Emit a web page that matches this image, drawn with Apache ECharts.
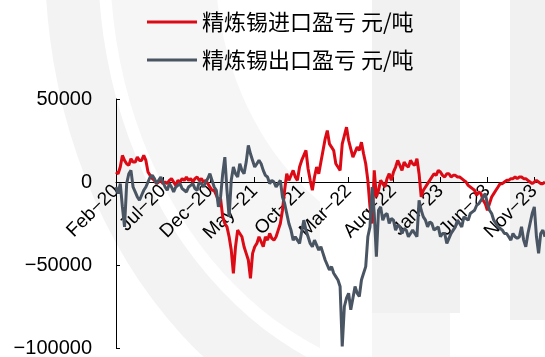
<!DOCTYPE html>
<html>
<head>
<meta charset="utf-8">
<script src="https://cdn.jsdelivr.net/npm/echarts@6/dist/echarts.min.js"></script>
<style>
  html, body { margin: 0; padding: 0; background: #ffffff; }
  #chart { width: 545px; height: 357px; }
</style>
</head>
<body>
<div id="chart"></div>
<script>
// Weekly refined-tin trade profit/loss (yuan per tonne), weeks starting 2020-02-03
const startDate = '2020-02-03';
const seriesNames = ['精炼锡进口盈亏 元/吨', '精炼锡出口盈亏 元/吨'];
const yTicks = [-100000, -50000, 0, 50000];

const importProfit = [
  6000, 5000, 9000, 16000, 13000, 11000, 10000, 14000, 12000, 12000,
  15000, 13000, 13000, 16000, 13000, 6000, 4000, 2000, 1000, -1000,
  0, 1000, -1000, 0, -1000, 1000, 2000, 0, -2000, 1000,
  0, 2000, 1000, 3000, 1000, 2000, 0, 2000, 3000, 1000,
  2000, 0, 1000, -1000, -3000, -5000, -5000, -8000, -11000, -10000,
  -21000, -25000, -27000, -33000, -41000, -55000, -39000, -29000, -31000, -33000,
  -39000, -43000, -47000, -58000, -43000, -39000, -37000, -33000, -36000, -39000,
  -33000, -35000, -31000, -34000, -35000, -33000, -29000, -25000, -17000, -5000,
  5000, 1000, 4000, 7000, 3000, 1000, 9000, 13000, 16000, 19000,
  8000, 1000, -5000, 3000, 9000, 5000, 12000, 19000, 26000, 31000,
  23000, 21000, 19000, 11000, 9000, 7000, 23000, 28000, 33000, 25000,
  20000, 15000, 18000, 21000, 19000, 24000, 17000, 11000, 1000, -15000,
  -25000, 7000, -9000, -5000, 1000, -1000, -3000, 2000, 5000, 1000,
  6000, 9000, 13000, 10000, 7000, 12000, 10000, 9000, 13000, 11000,
  10000, 14000, 5000, -9000, -5000, -3000, -1000, 1000, 3000, 5000,
  4000, 7000, 6000, 4000, 3000, 5000, 5000, 3000, 4000, 4000,
  3000, 3000, 2000, 1000, 0, -2000, -3000, -4000, -5000, -8000,
  -6000, -7000, -11000, -13000, -17000, -13000, -9000, -7000, -5000, -3000,
  -1000, -1000, 0, 1000, 1000, 2000, 2000, 3000, 2000, 3000,
  3000, 2000, 2000, 1000, 0, -1000, 0, 1000, 0, -1000,
  -1000, 0
];

const exportProfit = [
  -3000, -7000, -1000, -15000, -27000, -1000, 5000, 7000, -3000, -6000,
  -9000, -11000, -8000, -5000, -3000, 0, 3000, 4000, 2000, -1000,
  1000, 3000, 0, -3000, -5000, -1000, -3000, -6000, -3000, -2000,
  -1000, -4000, -5000, -6000, -3000, -2000, -1000, -4000, -5000, 0,
  -1000, -3000, 0, 2000, 5000, 1000, -3000, -5000, -15000, -9000,
  5000, 15000, -5000, -21000, 1000, 9000, 5000, 3000, 11000, 7000,
  5000, 12000, 22000, 17000, 13000, 9000, 11000, 13000, 11000, 7000,
  4000, 3000, -1000, 1000, 0, -3000, -1000, 1000, -9000, -13000,
  -19000, -25000, -29000, -35000, -33000, -35000, -37000, -30000, -23000, -29000,
  -33000, -37000, -39000, -35000, -38000, -41000, -39000, -43000, -47000, -50000,
  -53000, -51000, -55000, -57000, -59000, -63000, -99000, -75000, -70000, -67000,
  -77000, -70000, -63000, -67000, -69000, -59000, -55000, -51000, -33000, -27000,
  -3000, -19000, -45000, -17000, -15000, -23000, -20000, -19000, -25000, -22000,
  -23000, -29000, -26000, -27000, -31000, -28000, -29000, -33000, -31000, -29000,
  -31000, -33000, -11000, -17000, -21000, -23000, -27000, -24000, -25000, -29000,
  -28000, -27000, -33000, -31000, -31000, -37000, -34000, -31000, -29000, -27000,
  -23000, -25000, -27000, -21000, -22000, -23000, -19000, -18000, -17000, -14000,
  -13000, -11000, -9000, -7000, -13000, -17000, -19000, -23000, -25000, -27000,
  -28000, -29000, -31000, -31000, -33000, -35000, -31000, -33000, -34000, -33000,
  -27000, -35000, -39000, -31000, -25000, -19000, -15000, -33000, -43000, -31000,
  -29000, -33000
];

// Weekly date categories
const monthNames = ['Jan','Feb','Mar','Apr','May','Jun','Jul','Aug','Sep','Oct','Nov','Dec'];
const weekDates = [];
{
  const d0 = new Date(startDate + 'T00:00:00Z');
  for (let i = 0; i < importProfit.length; i++) {
    const d = new Date(d0.getTime() + i * 7 * 86400000);
    weekDates.push(d.toISOString().slice(0, 10));
  }
}
const base = new Date(startDate + 'T00:00:00Z');
const baseMonth = base.getUTCFullYear() * 12 + base.getUTCMonth();
function monthKey(s) { const p = s.split('-'); return (+p[0]) * 12 + (+p[1] - 1); }
// Label the first week of every fifth month
function showLabel(index) {
  const m = monthKey(weekDates[index]);
  if ((m - baseMonth) % 5 !== 0) return false;
  return index === 0 || monthKey(weekDates[index - 1]) !== m;
}
function fmtMonth(s) {
  const p = s.split('-');
  return monthNames[+p[1] - 1] + '\u2212' + p[0].slice(2);
}
const fontStack = "'Liberation Sans', Arial, 'Noto Sans CJK SC', sans-serif";

// plot area
const gridTop = 99, gridBottom = 9, chartH = 357;
const plotH = chartH - gridTop - gridBottom;
const yMin = yTicks[0], yMax = yTicks[yTicks.length - 1];
// shift the category axis up so it runs along the zero line
const zeroShift = plotH * (0 - yMin) / (yMax - yMin);

const wm = '#f3f3f3';
const chart = echarts.init(document.getElementById('chart'), null, { renderer: 'canvas' });
chart.setOption({
  animation: false,
  backgroundColor: '#ffffff',
  // faint logo watermark in the background
  graphic: [
    { type: 'sector', silent: true, z: -10, x: 450, y: -40, scaleY: 1.235,
      shape: { cx: 0, cy: 0, r: 405, r0: 352, startAngle: Math.PI * 0.45, endAngle: Math.PI * 1.1 },
      style: { fill: wm } },
    { type: 'sector', silent: true, z: -10, x: 450, y: -40, scaleY: 1.235,
      shape: { cx: 0, cy: 0, r: 340, r0: 235, startAngle: Math.PI * 0.5, endAngle: Math.PI * 1.1 },
      style: { fill: '#f6f6f6' } },
    { type: 'rect', silent: true, z: -9, shape: { x: 320, y: 0, width: 52, height: 357 }, style: { fill: '#ffffff' } },
    { type: 'rect', silent: true, z: -8, shape: { x: 372, y: 0, width: 88, height: 313 }, style: { fill: '#f1f1f1' } },
    { type: 'rect', silent: true, z: -8, shape: { x: 510, y: 0, width: 35, height: 320 }, style: { fill: '#f1f1f1' } }
  ],
  legend: {
    orient: 'vertical',
    left: 142,
    top: 6,
    itemWidth: 50,
    itemHeight: 20,
    itemGap: 16,
    icon: 'path://M0,8.5 L50,8.5 L50,11.5 L0,11.5 Z',
    textStyle: { fontSize: 22, color: '#000000', fontFamily: "'Noto Sans CJK SC', sans-serif" },
    data: seriesNames
  },
  grid: { left: 116, right: 0, top: gridTop, bottom: gridBottom, containLabel: false, outerBoundsMode: 'none' },
  xAxis: {
    type: 'category',
    data: weekDates,
    boundaryGap: false,
    position: 'bottom',
    offset: -zeroShift,
    axisLine: { onZero: false, lineStyle: { color: '#000000', width: 1 } },
    axisTick: { show: true, inside: true, length: 5, interval: showLabel, lineStyle: { color: '#000000' } },
    axisLabel: {
      interval: showLabel,
      rotate: 45,
      margin: 6,
      fontSize: 19,
      color: '#000000',
      fontFamily: fontStack,
      formatter: fmtMonth
    },
    splitLine: { show: false }
  },
  yAxis: {
    type: 'value',
    min: yMin,
    max: yMax,
    interval: 50000,
    axisLine: { show: true, lineStyle: { color: '#000000', width: 1 } },
    axisTick: { show: true, inside: true, length: 4, lineStyle: { color: '#000000' } },
    axisLabel: {
      margin: 24,
      fontSize: 20,
      color: '#000000',
      fontFamily: fontStack,
      formatter: v => String(v).replace('-', '\u2212')
    },
    splitLine: { show: false }
  },
  series: [
    {
      name: seriesNames[0],
      type: 'line',
      data: importProfit,
      showSymbol: false,
      z: 3,
      lineStyle: { color: '#dc0a14', width: 3 },
      itemStyle: { color: '#dc0a14' }
    },
    {
      name: seriesNames[1],
      type: 'line',
      data: exportProfit,
      showSymbol: false,
      z: 4,
      lineStyle: { color: '#4a5563', width: 3 },
      itemStyle: { color: '#4a5563' }
    }
  ]
});
</script>
</body>
</html>
